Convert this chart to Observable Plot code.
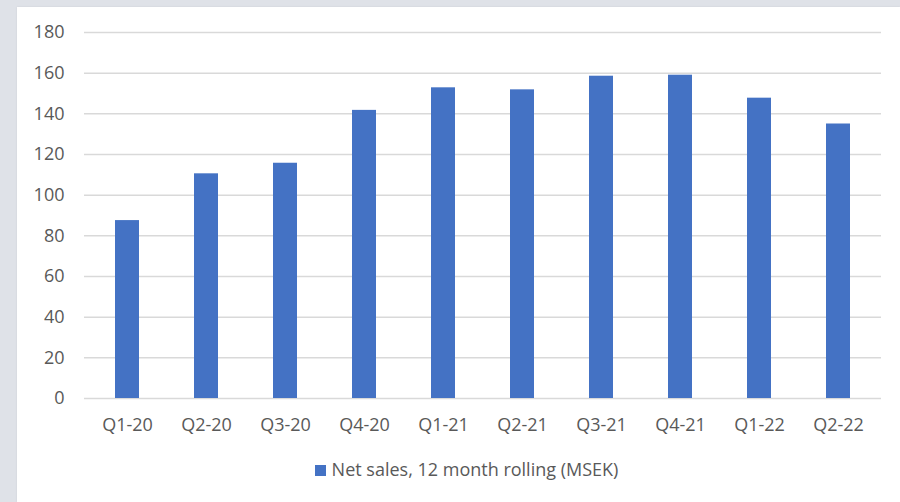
<!DOCTYPE html>
<html>
<head>
<meta charset="utf-8">
<script src="https://cdn.jsdelivr.net/npm/d3@7"></script>
<script src="https://cdn.jsdelivr.net/npm/@observablehq/plot@0.6"></script>
<style>
  html, body { margin: 0; padding: 0; width: 900px; height: 502px; overflow: hidden; background: #dfe2e8; }
  #panel { position: absolute; left: 17px; top: 7px; right: 0; bottom: 0; background: #ffffff; box-shadow: 0 0 2px rgba(0,0,0,0.08); }
  #chart { position: absolute; left: 0; top: 0; }
  #legend { position: absolute; left: 0; top: 457px; width: 933px; text-align: center; font-family: "Open Sans", "Liberation Sans", sans-serif; font-size: 18px; color: #595959; }
  #legend .sw { display: inline-block; width: 11px; height: 11px; background: #4472c4; margin-right: 6px; vertical-align: 0px; }
</style>
</head>
<body>
<div id="panel"></div>
<div id="chart"></div>
<div id="legend"><span class="sw"></span>Net sales, 12 month rolling (MSEK)</div>
<script>
const quarters = ["Q1-20","Q2-20","Q3-20","Q4-20","Q1-21","Q2-21","Q3-21","Q4-21","Q1-22","Q2-22"];
const netSales = [87.5, 110.5, 115.7, 141.7, 152.8, 151.8, 158.5, 159, 147.7, 135];
const yTicks = [0, 20, 40, 60, 80, 100, 120, 140, 160, 180];
const seriesName = "Net sales, 12 month rolling (MSEK)";

const data = quarters.map((q, i) => ({quarter: q, value: netSales[i]}));

const chart = Plot.plot({
  width: 900,
  height: 440,
  marginLeft: 84,
  marginRight: 19,
  marginTop: 32,
  marginBottom: 42,
  style: { fontFamily: "'Open Sans', 'Liberation Sans', sans-serif", fontSize: "18px", color: "#595959", background: "transparent", overflow: "visible" },
  x: { domain: quarters, paddingInner: 0.69, paddingOuter: 0.345, label: null, tickSize: 0, tickPadding: 20 },
  y: { domain: [0, 180], ticks: yTicks, label: null, tickSize: 0, tickPadding: 20 },
  marks: [
    Plot.ruleY(yTicks, { stroke: "#d9d9d9", strokeWidth: 1.5 }),
    Plot.barY(data, { x: "quarter", y: "value", fill: "#4472c4" })
  ]
});
document.getElementById("chart").appendChild(chart);
</script>
</body>
</html>
